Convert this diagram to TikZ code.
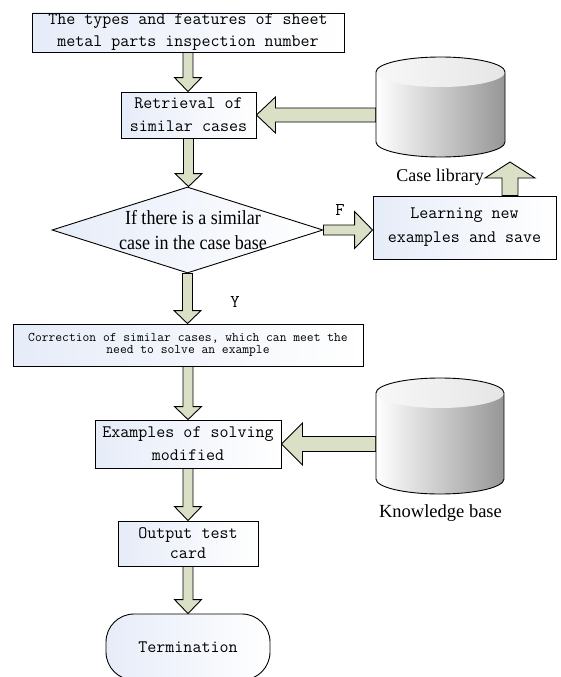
\documentclass[tikz,border=0pt]{standalone}
\usepackage{fontspec}
\newfontfamily\tnr{Liberation Serif}
\usetikzlibrary{shapes.geometric,calc,backgrounds}
\definecolor{boxblue}{RGB}{230,236,248}
\definecolor{arrfill}{RGB}{218,224,198}
\definecolor{cylgray}{RGB}{150,150,150}
\tikzset{
  procbox/.style={draw=black, line width=0.9pt, left color=boxblue, right color=white,
    inner sep=0pt, align=center, font=\fontsize{17.5}{22}\ttfamily},
  blockarr/.style={draw=black, line width=0.9pt, fill=arrfill, line join=miter},
  lbl/.style={font=\fontsize{18}{20}\tnr, inner sep=0pt},
  yflab/.style={font=\fontsize{18}{20}\ttfamily, inner sep=0pt},
  cylbox/.style={inner sep=0pt, draw=none},
}
% vertical block arrow: #1 start, #2 tip, #3 shaft half width, #4 head half width, #5 signed head length (canvas)
\newcommand\vblock[5]{%
  \draw[blockarr] let \p1=(#1), \p2=(#2) in
    ({\x1-#3pt},{\y1}) -- ({\x1-#3pt},{\y2+(#5pt)}) -- ({\x1-#4pt},{\y2+(#5pt)}) -- ({\x1},{\y2})
    -- ({\x1+#4pt},{\y2+(#5pt)}) -- ({\x1+#3pt},{\y2+(#5pt)}) -- ({\x1+#3pt},{\y1}) -- cycle;}
% horizontal block arrow: y taken from tip
\newcommand\hblock[5]{%
  \draw[blockarr] let \p1=(#1), \p2=(#2) in
    ({\x1},{\y2-#3pt}) -- ({\x2+(#5pt)},{\y2-#3pt}) -- ({\x2+(#5pt)},{\y2-#4pt}) -- ({\x2},{\y2})
    -- ({\x2+(#5pt)},{\y2+#4pt}) -- ({\x2+(#5pt)},{\y2+#3pt}) -- ({\x1},{\y2+#3pt}) -- cycle;}
% cylinder: #1 cx, #2 top centre y, #3 bottom centre y, #4 rx, #5 ry
\newcommand\cylshape[5]{%
  \shade[left color=white, right color=cylgray]
    ({#1-#4},#2) -- ({#1-#4},#3) .. controls ({#1-#4},{#3+0.5523*#5}) and ({#1-0.5523*#4},{#3+#5}) .. (#1,{#3+#5})
    .. controls ({#1+0.5523*#4},{#3+#5}) and ({#1+#4},{#3+0.5523*#5}) .. ({#1+#4},#3) -- ({#1+#4},#2) -- cycle;
  \shade[left color=black!3, right color=black!10] (#1,#2) ellipse [x radius=#4, y radius=#5];
  \draw[line width=0.9pt]
    ({#1-#4},#2) .. controls ({#1-#4},{#2-0.5523*#5}) and ({#1-0.5523*#4},{#2-#5}) .. (#1,{#2-#5})
    .. controls ({#1+0.5523*#4},{#2-#5}) and ({#1+#4},{#2-0.5523*#5}) .. ({#1+#4},#2)
    -- ({#1+#4},#3) .. controls ({#1+#4},{#3+0.5523*#5}) and ({#1+0.5523*#4},{#3+#5}) .. (#1,{#3+#5})
    .. controls ({#1-0.5523*#4},{#3+#5}) and ({#1-#4},{#3+0.5523*#5}) .. ({#1-#4},#3) -- cycle;}
\begin{document}
\begin{tikzpicture}[x=1pt,y=-1pt]
\useasboundingbox (0,0) rectangle (560,677);

% process boxes
\node[procbox, minimum width=312pt, minimum height=39pt] (top) at (188,32.5)
  {The types and features of sheet\\metal parts inspection number};
\node[procbox, minimum width=135pt, minimum height=46pt, font=\fontsize{17.5}{23}\ttfamily] (retr) at (188.5,115)
  {Retrieval of\\similar cases};
\node[draw=black, diamond, line width=0.9pt, left color=boxblue, right color=white,
  minimum width=271pt, minimum height=86pt, inner sep=0pt] (dia) at (187.5,230) {};
\node[font=\fontsize{20}{25}\tnr, align=center, inner sep=0pt, xscale=0.9, transform shape] (diatext) at (193,230.5)
  {If there is a similar\\case in the case base};
\node[procbox, minimum width=183pt, minimum height=63pt, font=\fontsize{17.5}{24}\ttfamily] (learn) at (464.5,227.5)
  {Learning new\\examples and save};
\node[procbox, minimum width=350pt, minimum height=42pt, font=\fontsize{13.2}{12.5}\ttfamily] (corr) at (188,345)
  {Correction of similar cases, which can meet the\\need to solve an example};
\node[procbox, minimum width=186pt, minimum height=48pt, font=\fontsize{17.5}{23}\ttfamily] (ex) at (188,444)
  {Examples of solving\\modified};
\node[procbox, minimum width=140pt, minimum height=45pt, font=\fontsize{17.5}{20}\ttfamily] (out) at (188,543.5)
  {Output test\\card};
\node[procbox, rounded corners=28pt, minimum width=164pt, minimum height=66pt] (term) at (188,647)
  {Termination};

% databases
\node[cylbox, minimum width=129pt, minimum height=101pt] (caselib) at (440.5,107) {};
\cylshape{440.5}{72}{142}{64.5}{15}
\node[cylbox, minimum width=128pt, minimum height=116pt] (kb) at (440,436) {};
\cylshape{440}{393}{479}{64}{15}

% labels
\node[lbl] (cllabel) at (440,177) {Case library};
\node[lbl, font=\fontsize{18.5}{20}\tnr] (kblabel) at (440.5,513) {Knowledge base};
\node[yflab] (flab) at (340,210) {F};
\node[yflab] (ylab) at (235,302) {Y};

\coordinate (uptip) at (510,162);

% block arrows (behind the shapes)
\begin{pgfonlayer}{background}
\vblock{top.south}{retr.north}{5}{13.5}{14}
\vblock{retr.south}{dia.north}{5}{13.5}{13}
\vblock{dia.south}{corr.north}{5}{13.5}{13}
\vblock{corr.south}{ex.north}{5}{13.5}{13}
\vblock{ex.south}{out.north}{5}{13.5}{14}
\vblock{out.south}{term.north}{5}{13.5}{14}
\hblock{caselib.west}{retr.east}{7}{18}{19}
\hblock{kb.west}{ex.east}{7.5}{21}{21}
\hblock{dia.east}{dia.east-|learn.west}{5}{18.5}{-18}
\vblock{learn.north-|uptip}{uptip}{8}{25}{-16}
\end{pgfonlayer}
\end{tikzpicture}
\end{document}
